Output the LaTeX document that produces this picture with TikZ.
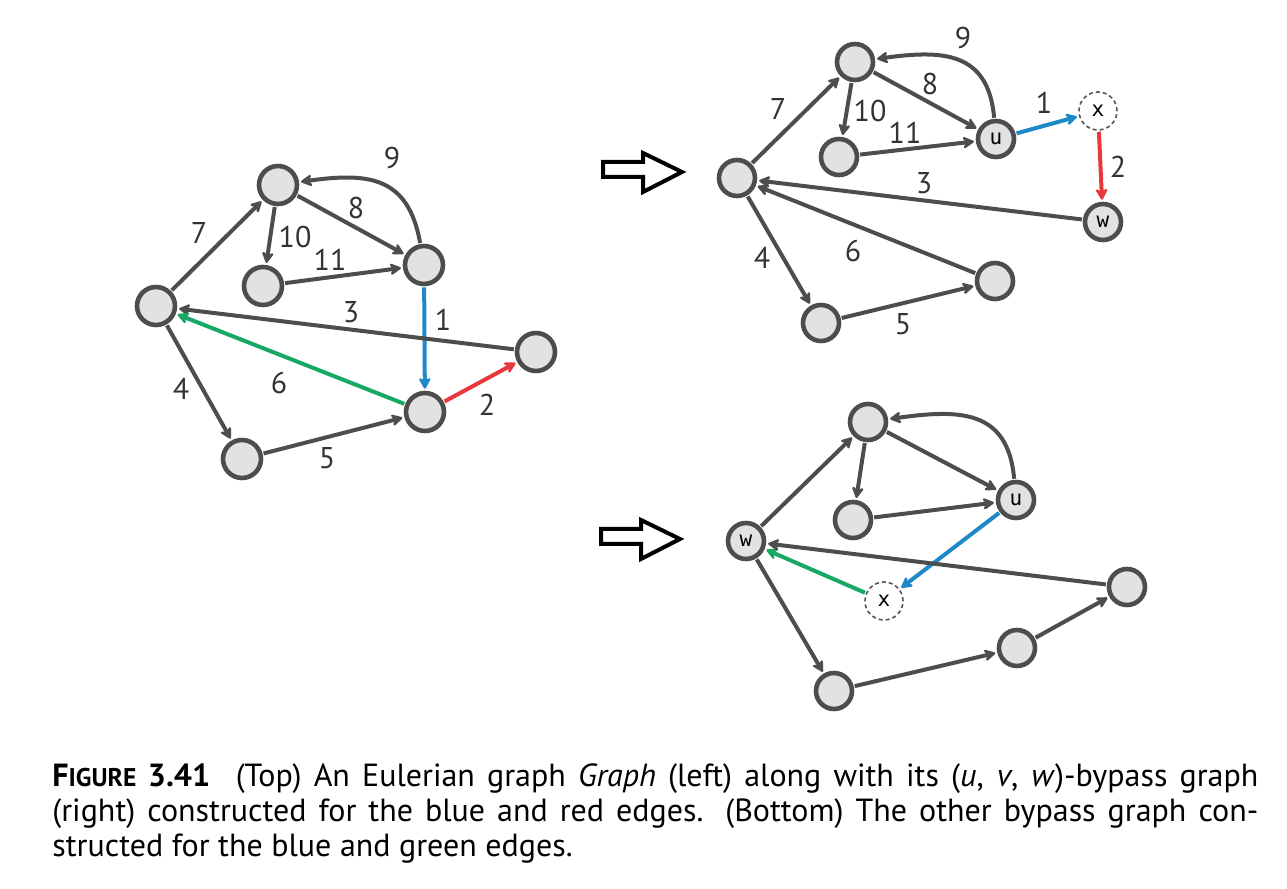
\documentclass[tikz,border=0pt]{standalone}
\usepackage{fontspec}
\setmainfont{PT Sans}
\newfontfamily\monofont{DejaVu Sans Mono}
\usetikzlibrary{arrows.meta}
\definecolor{edgegray}{HTML}{4D4D4D}
\definecolor{nodefill}{HTML}{E2E2E2}
\definecolor{dashgray}{HTML}{555555}
\definecolor{labelgray}{HTML}{333333}
\definecolor{eblue}{HTML}{1F88C8}
\definecolor{ered}{HTML}{E8383B}
\definecolor{egreen}{HTML}{17A865}
\begin{document}
\begin{tikzpicture}[x=0.5pt,y=0.5pt,
  vtx/.style={circle,draw=edgegray,line width=2.3pt,fill=nodefill,minimum size=19pt,inner sep=0pt,font=\monofont\fontsize{10.5}{10.5}\selectfont},
  svtx/.style={vtx,minimum size=18pt},
  dvtx/.style={circle,draw=dashgray,dash pattern=on 2pt off 1.5pt,line width=0.8pt,fill=white,minimum size=19pt,inner sep=0pt,font=\monofont\fontsize{10.5}{10.5}\selectfont},
  conn/.style={draw=edgegray,line width=2pt,-{Stealth[length=7pt,width=7.5pt,inset=2.5pt,round]},shorten >=1pt,shorten <=0.5pt},
  lbl/.style={font=\fontsize{15}{15}\selectfont,text=labelgray,inner sep=0pt},
  hollow/.style={draw=black,line width=2pt,fill=white,line join=miter}
]
\useasboundingbox (0,0) rectangle (1287,889);

% ---------- left graph ----------
\node[vtx] (A) at (156,583) {};
\node[vtx] (B) at (278,704) {};
\node[vtx] (C) at (263,603) {};
\node[vtx] (D) at (424,624) {};
\node[vtx] (E) at (425,477) {};
\node[vtx] (F) at (536,537) {};
\node[vtx] (G) at (242,430) {};

\draw[conn] (A) -- (B);
\draw[conn] (B) -- (D);
\draw[conn] (D) to[out=100,in=8,looseness=1.3] (B);
\draw[conn] (B) -- (C);
\draw[conn] (C) -- (D);
\draw[conn,draw=eblue] (D) -- (E);
\draw[conn,draw=ered] (E) -- (F);
\draw[conn] (F) -- (A);
\draw[conn] (A) -- (G);
\draw[conn] (G) -- (E);
\draw[conn,draw=egreen] (E) -- (A);

\node[lbl] (l7) at (199,656) {7};
\node[lbl] (l8) at (356,681) {8};
\node[lbl] (l9) at (392,731) {9};
\node[lbl] (l10) at (295,652) {10};
\node[lbl] (l11) at (330,629) {11};
\node[lbl] (l1) at (443,569) {1};
\node[lbl] (l2) at (487,484) {2};
\node[lbl] (l3) at (351,577) {3};
\node[lbl] (l4) at (181,500) {4};
\node[lbl] (l5) at (327,431) {5};
\node[lbl] (l6) at (279,506) {6};

% ---------- top right graph ----------
\node[svtx] (A1) at (737,711) {};
\node[svtx] (B1) at (855,827) {};
\node[svtx] (C1) at (839,732) {};
\node[svtx] (U1) at (996,750) {u};
\node[dvtx] (X1) at (1098,778) {x};
\node[svtx] (W1) at (1103,667) {w};
\node[svtx] (F1) at (995,608) {};
\node[svtx] (G1) at (821,566) {};

\draw[conn] (A1) -- (B1);
\draw[conn] (B1) -- (U1);
\draw[conn] (U1) to[out=95,in=8,looseness=1.3] (B1);
\draw[conn] (B1) -- (C1);
\draw[conn] (C1) -- (U1);
\draw[conn,draw=eblue] (U1) -- (X1);
\draw[conn,draw=ered] (X1) -- (W1);
\draw[conn] (W1) -- (A1);
\draw[conn] (A1) -- (G1);
\draw[conn] (G1) -- (F1);
\draw[conn] (F1) -- (A1);

\node[lbl] (m7) at (778,780) {7};
\node[lbl] (m8) at (930,805) {8};
\node[lbl] (m9) at (963,851) {9};
\node[lbl] (m10) at (870,778) {10};
\node[lbl] (m11) at (905,756) {11};
\node[lbl] (m1) at (1044,786) {1};
\node[lbl] (m2) at (1118,722) {2};
\node[lbl] (m3) at (924,706) {3};
\node[lbl] (m4) at (762,631) {4};
\node[lbl] (m5) at (903,565) {5};
\node[lbl] (m6) at (853,638) {6};

% ---------- bottom right graph ----------
\node[svtx] (W2) at (746,348) {w};
\node[svtx] (B2) at (868,467) {};
\node[svtx] (C2) at (853,369) {};
\node[svtx] (U2) at (1016,389) {u};
\node[dvtx] (X2) at (884,288) {x};
\node[svtx] (F2) at (1127,302) {};
\node[svtx] (H2) at (1017,241) {};
\node[svtx] (G2) at (834,198) {};

\draw[conn] (W2) -- (B2);
\draw[conn] (B2) -- (U2);
\draw[conn] (U2) to[out=95,in=8,looseness=1.3] (B2);
\draw[conn] (B2) -- (C2);
\draw[conn] (C2) -- (U2);
\draw[conn,draw=eblue] (U2) -- (X2);
\draw[conn,draw=egreen] (X2) -- (W2);
\draw[conn] (F2) -- (W2);
\draw[conn] (W2) -- (G2);
\draw[conn] (G2) -- (H2);
\draw[conn] (H2) -- (F2);

% ---------- hollow arrows ----------
\draw[hollow] (603,712) -- (643,712) -- (643,697) -- (682,717) -- (643,736) -- (643,727) -- (603,727) -- cycle;
\draw[hollow] (601,345) -- (641,345) -- (641,330) -- (680,350) -- (641,369) -- (641,360) -- (601,360) -- cycle;

% ---------- caption ----------
\node[anchor=base west,text width=603pt,align=justify,inner sep=0pt,
      font=\fontsize{16}{17.5}\selectfont] (cap) at (52,102)
 {\hyphenpenalty=10000 {\bfseries F{\fontsize{12.8}{12.8}\selectfont IGURE} 3.41}\hspace{0.8em}(Top) An Eulerian graph \textit{Graph} (left) along with its (\textit{u}, \textit{v}, \textit{w})-bypass graph\linebreak
 (right) constructed for the blue and red edges. (Bottom) The other bypass graph con-\linebreak
 structed for the blue and green edges.};
\end{tikzpicture}
\end{document}
